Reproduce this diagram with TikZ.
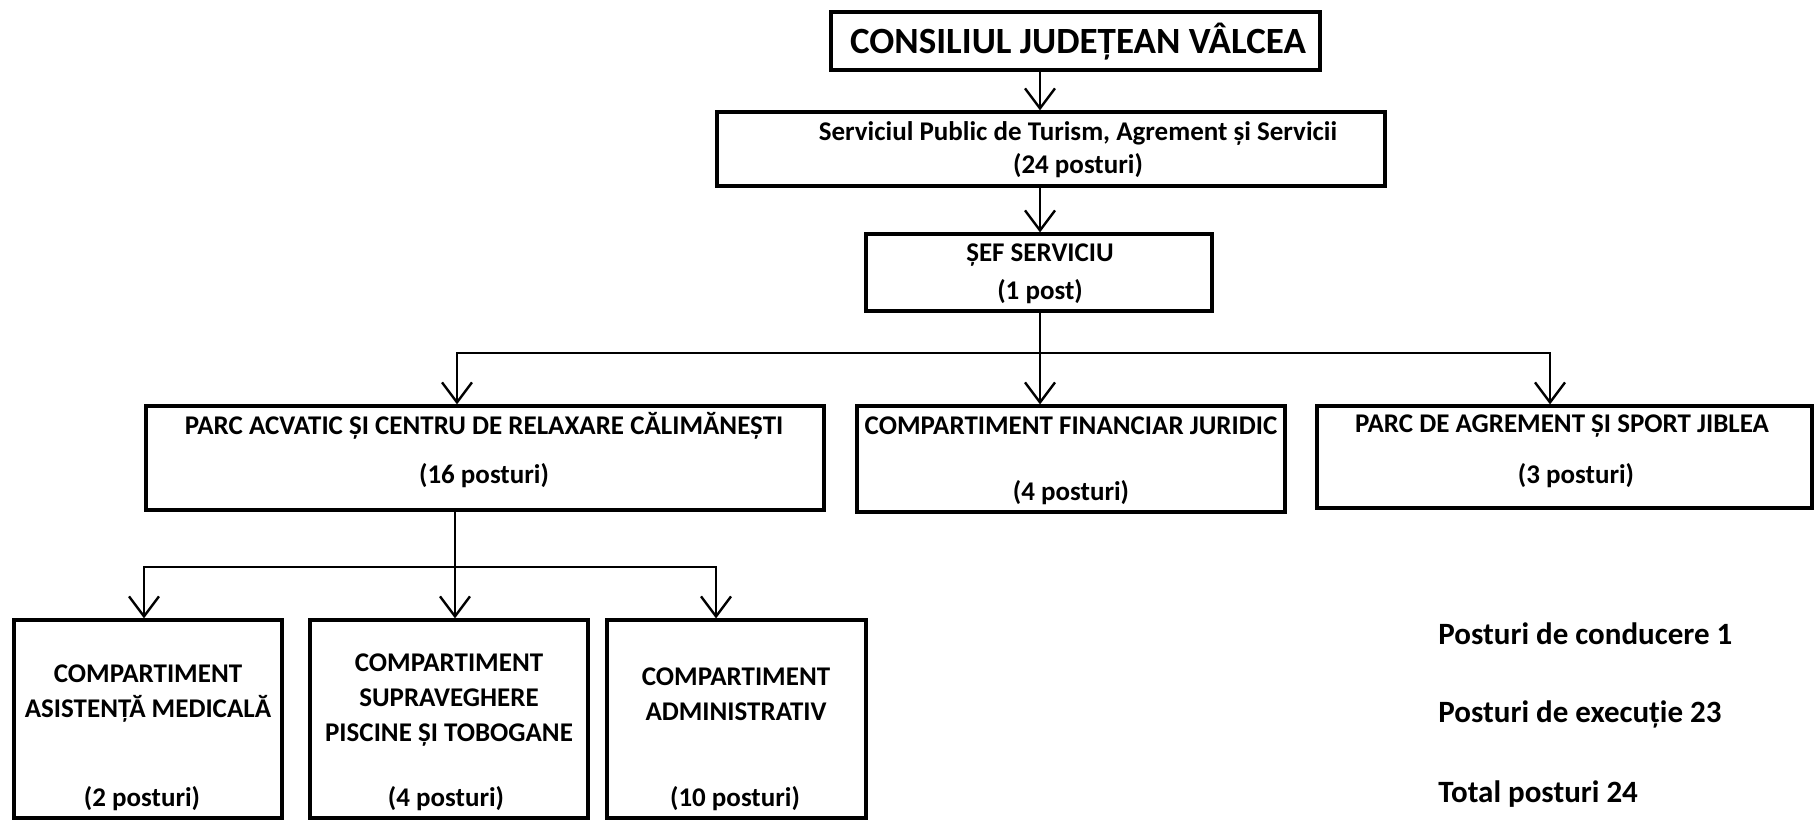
\documentclass[tikz,border=0pt]{standalone}
\usepackage{fontspec}
\setmainfont{Carlito}
\usetikzlibrary{arrows.meta,fit}
\tikzset{
 box/.style={draw, line width=1.6pt, inner sep=0pt},
 txt/.style={font=\bfseries\fontsize{13.5}{17.5}\selectfont, align=center, inner sep=0pt},
 big/.style={font=\bfseries\fontsize{18.5}{22}\selectfont, inner sep=0pt},
 note/.style={font=\bfseries\fontsize{15.5}{18}\selectfont, anchor=west, inner sep=0pt},
 link/.style={line width=1.3pt, line cap=rect},
 down/.style={line width=1.3pt, -{Straight Barb[length=10pt,width=15pt,line width=1.2pt]}},
}

\begin{document}
\begin{tikzpicture}[x=0.5pt,y=-0.5pt]
    \useasboundingbox (0,0) rectangle (1815,824);

    \node[box, fit={(831,12) (1320,70)}] (cj) {};
    \node[big] (cjt) at (1078,42) {CONSILIUL JUDEȚEAN VÂLCEA};

    \node[box, fit={(717,112) (1385,186)}] (sp) {};
    \node[txt] (spt1) at (1078,133) {Serviciul Public de Turism, Agrement și Servicii};
    \node[txt] (spt2) at (1078,166) {(24 posturi)};

    \node[box, fit={(866,234) (1212,311)}] (sef) {};
    \node[txt] (seft1) at (1040,255) {ȘEF SERVICIU};
    \node[txt] (seft2) at (1040,292) {(1 post)};

    \node[box, fit={(146,406) (824,510)}] (parc) {};
    \node[txt] (parct1) at (484,426) {PARC ACVATIC ȘI CENTRU DE RELAXARE CĂLIMĂNEȘTI};
    \node[txt] (parct2) at (484,476) {(16 posturi)};

    \node[box, fit={(857,406) (1285,512)}] (fin) {};
    \node[txt] (fint1) at (1071,426) {COMPARTIMENT FINANCIAR JURIDIC};
    \node[txt] (fint2) at (1071,493) {(4 posturi)};

    \node[box, fit={(1317,406) (1812,508)}] (jib) {};
    \node[txt] (jibt1) at (1562,426) {PARC DE AGREMENT ȘI SPORT JIBLEA};
    \node[txt] (jibt2) at (1576,476) {(3 posturi)};

    \node[box, fit={(14,620) (282,818)}] (med) {};
    \node[txt] (medt1) at (148,694) {COMPARTIMENT\\ASISTENȚĂ MEDICALĂ};
    \node[txt] (medt2) at (142,799) {(2 posturi)};

    \node[box, fit={(310,620) (588,818)}] (sup) {};
    \node[txt] (supt1) at (449,700) {COMPARTIMENT\\SUPRAVEGHERE\\PISCINE ȘI TOBOGANE};
    \node[txt] (supt2) at (446,799) {(4 posturi)};

    \node[box, fit={(607,620) (866,818)}] (adm) {};
    \node[txt] (admt1) at (736,694) {COMPARTIMENT\\ADMINISTRATIV};
    \node[txt] (admt2) at (735,799) {(10 posturi)};

    \node[note] (cond) at (1438,634) {Posturi de conducere 1};
    \node[note] (exec) at (1438,714) {Posturi de execuție 23};
    \node[note] (tot) at (1438,794) {Total posturi 24};

    \coordinate (spine) at (1040,0);
    \draw[down] (cj.south -| spine) -- (sp.north -| spine);
    \draw[down] (sp.south -| spine) -- (sef.north -| spine);

    \foreach \n/\x in {parc/457, fin/1040, jib/1550} {
        \coordinate (k\n) at (\x,353);
        \draw[down] (k\n) -- (k\n |- \n.north);
    }
    \draw[link] (sef.south -| kfin) -- (kfin);
    \draw[link] (kparc) -- (kjib);

    \foreach \n/\x in {med/144, sup/455, adm/716} {
        \coordinate (k\n) at (\x,567);
        \draw[down] (k\n) -- (k\n |- \n.north);
    }
    \draw[link] (parc.south -| ksup) -- (ksup);
    \draw[link] (kmed) -- (kadm);
\end{tikzpicture}
\end{document}
